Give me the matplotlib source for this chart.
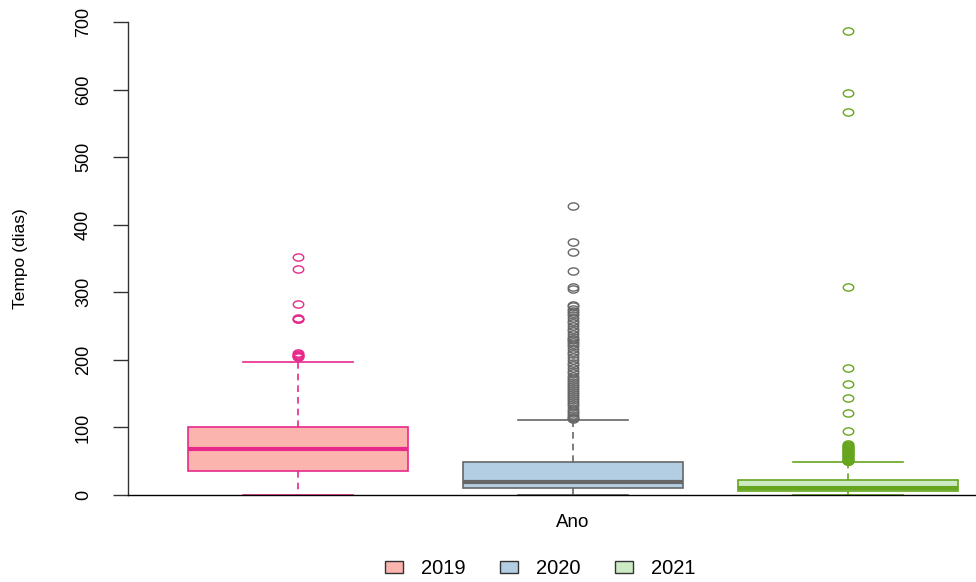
import matplotlib.pyplot as plt
from matplotlib.patches import Patch
from matplotlib.markers import MarkerStyle
from matplotlib.transforms import Affine2D

plt.rcParams["font.family"] = ["Liberation Sans", "DejaVu Sans"]

# Dados (estatisticas do boxplot)
anos = ["2019", "2020", "2021"]
q1 = [36, 10, 6]
mediana = [68, 19, 11]
q3 = [100, 49, 22]
bigode_inf = [0, 0, 0]
bigode_sup = [197, 111, 49]
outliers = [
    [352, 334, 283, 262, 261, 260, 210, 208, 207, 206, 205, 204],
    [428, 375, 359, 331, 308, 305, 281, 279, 276, 273, 270, 266, 262, 258,
     254, 250, 246, 242, 238, 234, 231, 229, 227, 224, 220, 216, 212, 208,
     204, 200, 196, 192, 188, 184, 180, 176, 173, 170, 167, 164, 161, 158,
     155, 152, 149, 146, 143, 140, 137, 134, 131, 128, 125, 122, 119, 116,
     114, 112],
    [687, 595, 567, 308, 188, 165, 144, 122, 95, 75, 74, 73, 72, 71, 70,
     69, 68, 67, 66, 65, 64, 63, 62, 61, 60, 59, 58, 57, 56, 55, 54, 53,
     52, 51, 50, 50],
]

cores_fill = ["#FBB4AE", "#B3CDE3", "#CCEBC5"]
cores_borda = ["#E7298A", "#666666", "#66A61E"]

# marcador eliptico (circulo do R esticado)
elipse = MarkerStyle("o", fillstyle="none", transform=Affine2D().scale(1.45, 1.0))

fig = plt.figure(figsize=(9.76, 5.82), dpi=100)
ax = fig.add_axes([128 / 976, 1 - 495 / 582, 1 - 128 / 976, (495 - 22) / 582])

for i in range(3):
    stats = [dict(med=mediana[i], q1=q1[i], q3=q3[i], whislo=bigode_inf[i],
                  whishi=bigode_sup[i], fliers=outliers[i])]
    c = cores_borda[i]
    ax.bxp(stats, positions=[i + 1], widths=0.8, patch_artist=True,
           boxprops=dict(facecolor=cores_fill[i], edgecolor=c, linewidth=1.2),
           medianprops=dict(color=c, linewidth=3),
           whiskerprops=dict(color=c, linestyle=(0, (4, 3)), linewidth=1.2),
           capprops=dict(color=c, linewidth=1.2),
           capwidths=0.4,
           flierprops=dict(marker=elipse, markerfacecolor="none", markeredgecolor=c,
                           markersize=5.2, markeredgewidth=1.0, linestyle="none"))

ax.set_xlim(0.382, 3.465)
ax.set_ylim(0, 700)
ax.set_yticks([0, 100, 200, 300, 400, 500, 600, 700])
ax.tick_params(axis="y", labelrotation=90, labelsize=13, length=11, width=1,
               pad=15, color="#333333")
for lab in ax.get_yticklabels():
    lab.set_va("center")
ax.set_xticks([])
ax.spines["top"].set_visible(False)
ax.spines["right"].set_visible(False)
ax.spines["left"].set_linewidth(1.0)
ax.spines["left"].set_color("#333333")
ax.spines["bottom"].set_linewidth(1.0)

ax.set_ylabel("Tempo (dias)", fontsize=12.5)
ax.yaxis.set_label_coords((28 - 128) / 848, 0.5)
ax.text(2, -40, "Ano", ha="center", va="center", fontsize=13.5)

handles = [Patch(facecolor=cores_fill[i], edgecolor="#333333", label=anos[i]) for i in range(3)]
fig.legend(handles=handles, loc="center", bbox_to_anchor=(540 / 976, 1 - 569 / 582),
           ncol=3, frameon=False, fontsize=14.5, handlelength=0.9, handleheight=0.55,
           columnspacing=1.7, handletextpad=0.9)

fig.savefig("out.png", dpi=100)
